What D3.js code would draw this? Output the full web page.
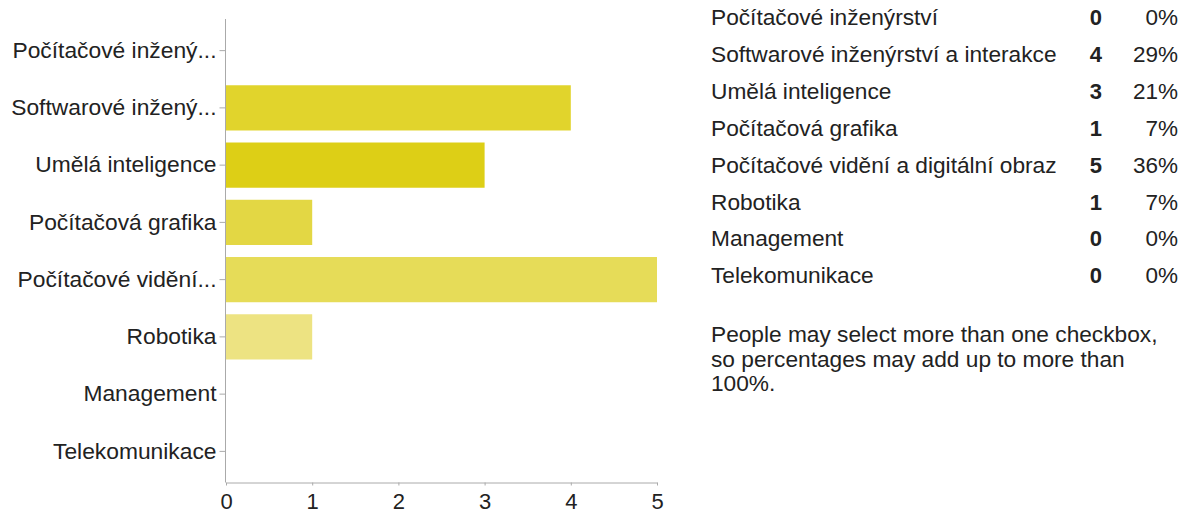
<!DOCTYPE html>
<html>
<head>
<meta charset="utf-8">
<script src="https://cdn.jsdelivr.net/npm/d3@7"></script>
<style>
  body { margin: 0; background: #fff; }
  svg text { font-family: Arial, "Liberation Sans", Helvetica, sans-serif; }
</style>
</head>
<body>
<script>
// data
var categories = [
  'Počítačové inženýrství',
  'Softwarové inženýrství a interakce',
  'Umělá inteligence',
  'Počítačová grafika',
  'Počítačové vidění a digitální obraz',
  'Robotika',
  'Management',
  'Telekomunikace'
];
var axisLabels = [
  'Počítačové inžený...',
  'Softwarové inžený...',
  'Umělá inteligence',
  'Počítačová grafika',
  'Počítačové vidění...',
  'Robotika',
  'Management',
  'Telekomunikace'
];
var counts = [0, 4, 3, 1, 5, 1, 0, 0];
var percents = ['0%', '29%', '21%', '7%', '36%', '7%', '0%', '0%'];
var barColors = ['#e1d42c', '#e1d42c', '#ddcf16', '#e3d744', '#e6dc58', '#ede382', '#ede382', '#ede382'];
var xTicks = [0, 1, 2, 3, 4, 5];
var noteLines = [
  'People may select more than one checkbox,',
  'so percentages may add up to more than',
  '100%.'
];

var width = 1181, height = 509;

var svg = d3.select('body').append('svg')
  .attr('width', width)
  .attr('height', height);

// scales
var x = d3.scaleLinear().domain([0, 5]).range([226, 657]);
var y = d3.scaleBand()
  .domain(categories)
  .range([22, 480])
  .paddingInner(0.21)
  .paddingOuter(0.105);

// bars
svg.selectAll('.bar')
  .data(categories)
  .enter().append('rect')
  .attr('class', 'bar')
  .attr('x', x(0))
  .attr('y', function(d) { return y(d); })
  .attr('width', function(d, i) { return x(counts[i]) - x(0); })
  .attr('height', y.bandwidth())
  .attr('fill', function(d, i) { return barColors[i]; });

// y axis
var yAxis = svg.append('g')
  .attr('transform', 'translate(' + 225.5 + ',0)')
  .call(d3.axisLeft(y)
    .tickSize(6)
    .tickPadding(3)
    .tickSizeOuter(0)
    .tickFormat(function(d, i) { return axisLabels[i]; }));
yAxis.select('.domain').remove();
yAxis.selectAll('.tick line').attr('stroke', '#aaa');
yAxis.selectAll('.tick text')
  .attr('fill', '#222')
  .style('font-size', '22.8px');

svg.append('line')
  .attr('x1', 225.5).attr('x2', 225.5)
  .attr('y1', 19).attr('y2', 482.5)
  .attr('stroke', '#aaa');

// x axis
var xAxis = svg.append('g')
  .attr('transform', 'translate(0,' + 482.5 + ')')
  .call(d3.axisBottom(x)
    .tickValues(xTicks)
    .tickSize(3)
    .tickPadding(8)
    .tickSizeOuter(0)
    .tickFormat(d3.format('d')));
xAxis.select('.domain').attr('stroke', '#aaa');
xAxis.selectAll('.tick line').attr('stroke', '#aaa');
xAxis.selectAll('.tick text')
  .attr('fill', '#222')
  .style('font-size', '22px');

// summary table on the right
var table = svg.append('g');
var rowY = function(i) { return 25.3 + i * 36.85; };

table.selectAll('.name')
  .data(categories)
  .enter().append('text')
  .attr('x', 711)
  .attr('y', function(d, i) { return rowY(i); })
  .style('font-size', '22.7px')
  .attr('fill', '#222')
  .text(function(d) { return d; });

table.selectAll('.count')
  .data(counts)
  .enter().append('text')
  .attr('x', 1102)
  .attr('y', function(d, i) { return rowY(i); })
  .attr('text-anchor', 'end')
  .style('font-size', '22px')
  .style('font-weight', 'bold')
  .attr('fill', '#222')
  .text(function(d) { return d; });

table.selectAll('.pct')
  .data(percents)
  .enter().append('text')
  .attr('x', 1178)
  .attr('y', function(d, i) { return rowY(i); })
  .attr('text-anchor', 'end')
  .style('font-size', '22.5px')
  .attr('fill', '#222')
  .text(function(d) { return d; });

// note
svg.selectAll('.note')
  .data(noteLines)
  .enter().append('text')
  .attr('x', 711)
  .attr('y', function(d, i) { return 341.7 + i * 24.8; })
  .style('font-size', '22.7px')
  .attr('fill', '#222')
  .text(function(d) { return d; });
</script>
</body>
</html>
